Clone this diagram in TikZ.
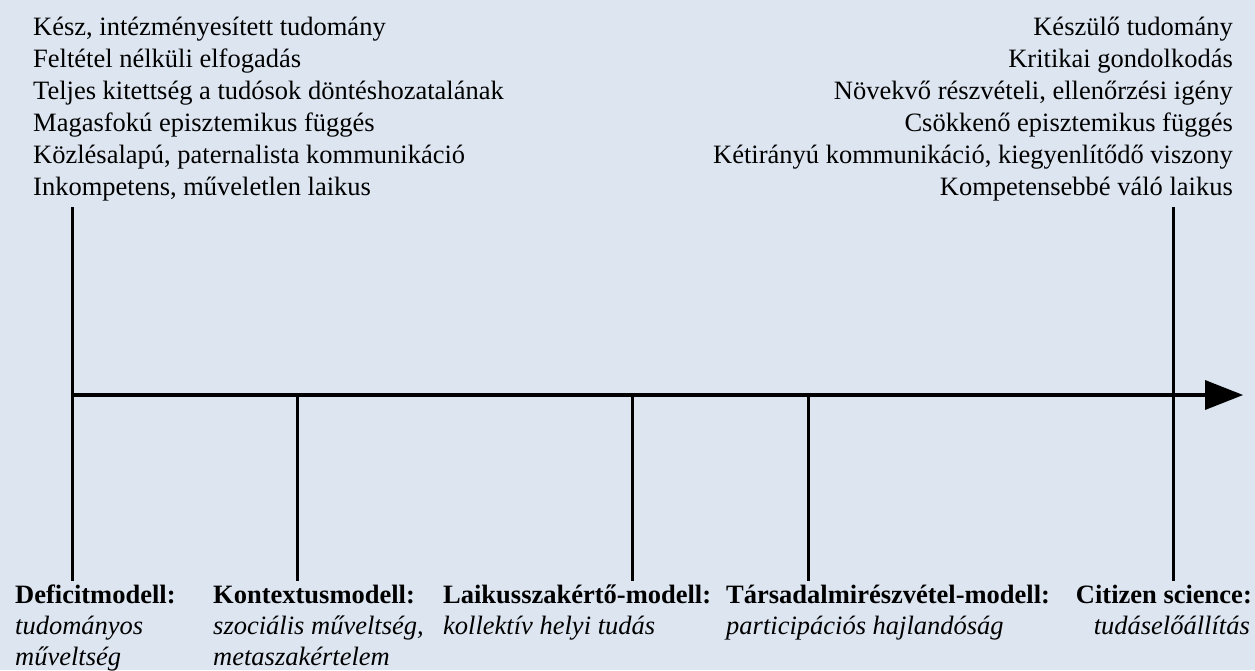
\documentclass[tikz,border=0pt]{standalone}
\usepackage{fontspec}
\setmainfont{Liberation Serif}
\definecolor{bg}{HTML}{DCE5F0}
\begin{document}
\begin{tikzpicture}[x=1pt,y=-1pt,
  txt/.style={inner sep=0pt,font=\fontsize{26.5}{32}\selectfont},
  bld/.style={txt,font=\fontsize{26.5}{32}\selectfont\bfseries},
  itl/.style={txt,font=\fontsize{26.5}{32}\selectfont\itshape},
  tickline/.style={line width=3pt,black},
  axisline/.style={line width=4.5pt,black}]
\fill[bg] (0,0) rectangle (1255,670);
\useasboundingbox (0,0) rectangle (1255,670);
% top left list
\foreach \t [count=\i] in {{Kész, intézményesített tudomány},{Feltétel nélküli elfogadás},{Teljes kitettség a tudósok döntéshozatalának},{Magasfokú episztemikus függés},{Közlésalapú, paternalista kommunikáció},{Inkompetens, műveletlen laikus}}
  \node[txt,anchor=base west] (L\i) at (33,{35+32*(\i-1)}) {\t};
\foreach \t [count=\i] in {{Készülő tudomány},{Kritikai gondolkodás},{Növekvő részvételi, ellenőrzési igény},{Csökkenő episztemikus függés},{Kétirányú kommunikáció, kiegyenlítődő viszony},{Kompetensebbé váló laikus}}
  \node[txt,anchor=base east] (R\i) at (1233,{35+32*(\i-1)}) {\t};
% axis
\coordinate (a0) at (72,395);
\coordinate (a1) at (1243,395);
\draw[axisline] (a0) -- (1206,395);
\fill[black] (a1) -- (1205,380) -- (1205,410) -- cycle;
% ticks
\coordinate (t1top) at (72,207);
\coordinate (t1bot) at (72,581);
\coordinate (t5top) at (1173,207);
\coordinate (t5bot) at (1173,581);
\draw[tickline] (t1top) -- (t1bot);
\draw[tickline] (t5top) -- (t5bot);
\foreach \x [count=\i from 2] in {297,632,808}{
  \coordinate (t\i top) at (\x,395);
  \coordinate (t\i bot) at (\x,581);
  \draw[tickline] (t\i top) -- (t\i bot);
}
% bottom labels
\node[bld,anchor=base west] (b1) at (15,603) {Deficitmodell:};
\node[itl,anchor=base west] (b1a) at (15,634) {tudományos};
\node[itl,anchor=base west] (b1b) at (15,665) {műveltség};
\node[bld,anchor=base west] (b2) at (213,603) {Kontextusmodell:};
\node[itl,anchor=base west] (b2a) at (213,634) {szociális műveltség,};
\node[itl,anchor=base west] (b2b) at (213,665) {metaszakértelem};
\node[bld,anchor=base west] (b3) at (443,603) {Laikusszakértő-modell:};
\node[itl,anchor=base west] (b3a) at (443,634) {kollektív helyi tudás};
\node[bld,anchor=base west] (b4) at (726,603) {Társadalmirészvétel-modell:};
\node[itl,anchor=base west] (b4a) at (726,634) {participációs hajlandóság};
\node[bld,anchor=base east] (b5) at (1252,603) {Citizen science:};
\node[itl,anchor=base east] (b5a) at (1250,634) {tudáselőállítás};
\end{tikzpicture}
\end{document}
